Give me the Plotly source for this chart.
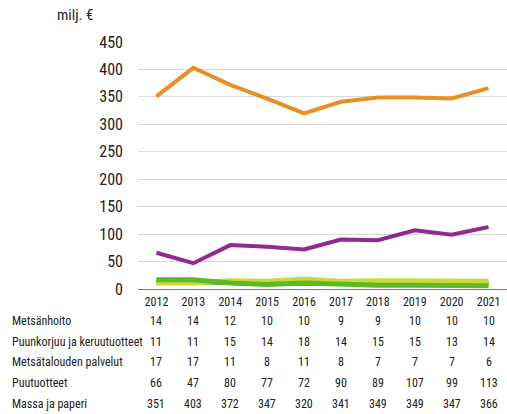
import plotly.graph_objs as go

# Data
years = ['2012', '2013', '2014', '2015', '2016', '2017', '2018', '2019', '2020', '2021']
metsanhoito = [14, 14, 12, 10, 10, 9, 9, 10, 10, 10]
puunkorjuu = [11, 11, 15, 14, 18, 14, 15, 15, 13, 14]
palvelut = [17, 17, 11, 8, 11, 8, 7, 7, 7, 6]
puutuotteet = [66, 47, 80, 77, 72, 90, 89, 107, 99, 113]
massa = [351, 403, 372, 347, 320, 341, 349, 349, 347, 366]

row_names = ['Metsänhoito', 'Puunkorjuu ja keruutuotteet', 'Metsätalouden palvelut',
             'Puutuotteet', 'Massa ja paperi']
rows = [metsanhoito, puunkorjuu, palvelut, puutuotteet, massa]
colors = ['#3f9f35', '#c9da3a', '#5cba28', '#8f2a8f', '#e88f26']
widths = [5, 5, 5, 4, 4]

FONT = 'Liberation Sans Narrow, Roboto Condensed, Arial Narrow, sans-serif'

data = []
for name, vals, c, w in zip(row_names, rows, colors, widths):
    data.append(go.Scatter(x=years, y=vals, name=name, mode='lines',
                           line=dict(color=c, width=w)))

layout = go.Layout(
    width=507, height=414,
    margin=dict(l=138, r=0, t=42, b=125),
    paper_bgcolor='white', plot_bgcolor='white',
    showlegend=False,
    font=dict(family=FONT, color='#222222'),
    xaxis=dict(type='category', range=[-0.5, 9.5], showgrid=False,
               showline=True, linecolor='#a05aa0', linewidth=1,
               ticks='', tickfont=dict(size=12), ticklabelstandoff=2),
    yaxis=dict(range=[0, 450], dtick=50, showgrid=True, gridcolor='#d9d9d9',
               gridwidth=1, zeroline=False, ticks='', tickfont=dict(size=16),
               ticklabelstandoff=14),
)

fig = go.Figure(data=data, layout=layout)

# y axis unit
fig.add_annotation(text='milj. €', xref='paper', yref='paper', x=-63 / 369, y=1 + 27 / 247,
                   xanchor='center', yanchor='middle', showarrow=False,
                   font=dict(size=15, family=FONT))

# Data table under the chart
row_y = [321, 342, 362, 383, 404]
for name, vals, py in zip(row_names, rows, row_y):
    yp = (289 - py) / 247
    fig.add_annotation(text=name, xref='paper', yref='paper', x=-128 / 369, y=yp,
                       xanchor='left', yanchor='middle', showarrow=False,
                       font=dict(size=12, family=FONT))
    for i, v in enumerate(vals):
        # category index, so the column sits under its year
        fig.add_annotation(text=str(v), xref='x', yref='paper', x=i, y=yp,
                           xanchor='center', yanchor='middle', showarrow=False,
                           font=dict(size=12, family=FONT))

# drop the default page margin so the figure fills the window
fig.write_html('out.html', config={'displayModeBar': False},
               post_script="document.body.style.margin='0';")
